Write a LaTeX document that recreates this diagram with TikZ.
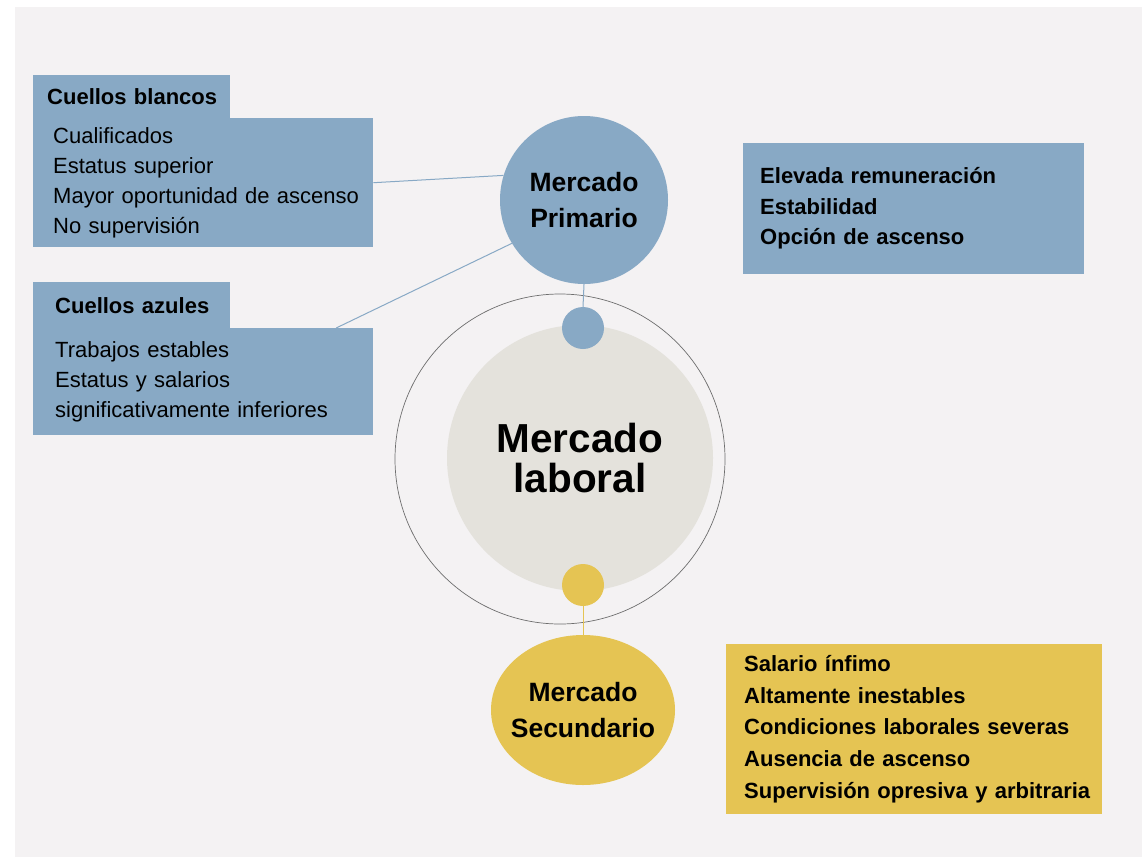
\documentclass[tikz,border=0pt]{standalone}
\usepackage{fontspec}
\setmainfont{Liberation Sans}
\usetikzlibrary{shapes.geometric}
\definecolor{fondo}{HTML}{F4F2F3}
\definecolor{azul}{HTML}{88A9C5}
\definecolor{amarillo}{HTML}{E5C453}
\definecolor{gris}{HTML}{E4E2DC}
\definecolor{anillo}{HTML}{6E6E6E}
\newcommand\fuentelista{\fontsize{22}{30}\selectfont}
\newcommand\fuentecirculo{\fontsize{26.5}{36}\selectfont\bfseries}
\newcommand\fuentecentro{\fontsize{40.5}{40}\selectfont\bfseries}
\tikzset{
  panel/.style={anchor=north west, inner sep=0pt, align=left, font=\fuentelista},
  bola/.style={circle, inner sep=0pt, align=center, font=\fuentecirculo},
  enlace/.style={line width=1pt}
}
\begin{document}
\begin{tikzpicture}[x=1pt,y=-1pt]
    \useasboundingbox (0,0) rectangle (1142,857);
    \fill[white] (0,0) rectangle (1142,857);
    \fill[fondo] (15,7) rectangle (1142,857);
    % circulos centrales
    \node[draw=anillo, line width=0.7pt, circle, minimum size=330pt] (anillo) at (560,459) {};
    \node[bola, fill=gris, minimum size=266pt, font=\fuentecentro] (laboral) at (580,458) {Mercado\\laboral};
    \node[bola, fill=azul, minimum size=168pt] (primario) at (584,200) {Mercado\\Primario};
    \node[bola, fill=azul, minimum size=42pt] (puntoA) at (583,328) {};
    \node[bola, fill=amarillo, minimum size=42pt] (puntoB) at (583,585) {};
    \node[ellipse, inner sep=0pt, fill=amarillo, minimum width=184pt, minimum height=150pt,
          label={[font=\fuentecirculo, align=center]center:Mercado\\Secundario}] (secundario) at (583,710) {};
    % cuadros
    \node[panel, fill=azul, text width=197pt, minimum height=43pt, font=\fuentelista\bfseries] (blancostab) at (33,75) {\leftskip=14pt Cuellos blancos\par};
    \node[panel, fill=azul, text width=340pt, minimum height=129pt] (blancos) at (33,118) {\leftskip=20pt Cualificados\\Estatus superior\\Mayor oportunidad de ascenso\\No supervisión\par};
    \node[panel, fill=azul, text width=197pt, minimum height=46pt, font=\fuentelista\bfseries] (azulestab) at (33,282) {\leftskip=22pt Cuellos azules\par};
    \node[panel, fill=azul, text width=340pt, minimum height=107pt] (azules) at (33,328) {\leftskip=22pt Trabajos estables\\Estatus y salarios\\significativamente inferiores\par};
    \node[panel, fill=azul, text width=341pt, minimum height=131pt, font=\fontsize{22}{30.5}\selectfont\bfseries] (ventajas) at (743,143) {\leftskip=17pt Elevada remuneración\\Estabilidad\\Opción de ascenso\par};
    \node[panel, fill=amarillo, text width=376pt, minimum height=170pt, font=\fontsize{22}{31.75}\selectfont\bfseries] (desventajas) at (726,644) {\leftskip=18pt Salario ínfimo\\Altamente inestables\\Condiciones laborales severas\\Ausencia de ascenso\\Supervisión opresiva y arbitraria\par};
    % conexiones
    \draw[enlace, azul] (blancos.east) -- (primario.163);
    \draw[enlace, azul] (azules.22) -- (primario.211);
    \draw[enlace, azul] (primario.south) -- (puntoA.north);
    \draw[enlace, amarillo] (puntoB.south) -- (secundario.north);
\end{tikzpicture}
\end{document}
